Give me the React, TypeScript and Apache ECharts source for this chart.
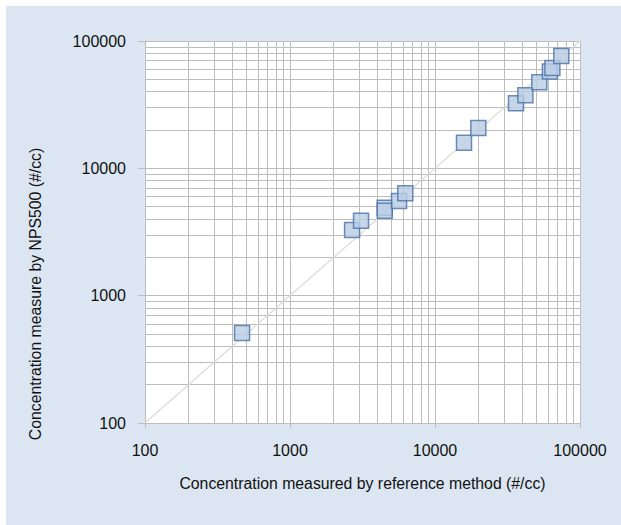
import React, { useEffect, useRef } from "react";
import * as echarts from "echarts";

const refValues = [467, 2680, 3090, 4500, 4500, 5650, 6240, 15850, 19900, 36200, 42000, 52400, 62000, 64500, 74300];
const npsValues = [509, 3280, 3880, 4900, 4640, 5550, 6370, 15900, 20700, 32400, 37500, 47400, 57500, 61500, 76400];
const majorTicks = [100, 1000, 10000, 100000];
const minorGrid = [200, 300, 400, 500, 600, 700, 800, 900, 2000, 3000, 4000, 5000, 6000, 7000, 8000, 9000, 20000, 30000, 40000, 50000, 60000, 70000, 80000, 90000];
const identityLine = [[100, 100], [100000, 100000]];

const xTitle = "Concentration measured by reference method (#/cc)";
const yTitle = "Concentration measure by NPS500 (#/cc)";

const GRID = "#bdbdbd";
const FONT = "Liberation Sans, Arial, sans-serif";
const TEXT = "#111111";

export default function App() {
  const ref = useRef<HTMLDivElement>(null);
  useEffect(() => {
    if (!ref.current) return;
    const chart = echarts.init(ref.current, null, { renderer: "svg" });
    const points = refValues.map((x, i) => [x, npsValues[i]]);
    const gridMarks = [
      ...minorGrid.map((v) => ({ xAxis: v })),
      ...minorGrid.map((v) => ({ yAxis: v })),
    ];
    const axisCommon = {
      type: "log" as const,
      logBase: 10,
      min: majorTicks[0],
      max: majorTicks[majorTicks.length - 1],
      axisLine: { show: true, lineStyle: { color: GRID, width: 1 } },
      splitLine: { show: true, lineStyle: { color: GRID, width: 1 } },
      minorTick: { show: false },
      minorSplitLine: { show: false },
      axisLabel: {
        color: TEXT,
        fontFamily: FONT,
        fontSize: 16,
        formatter: (v: number) => String(Math.round(v)),
      },
    };
    chart.setOption({
      animation: false,
      backgroundColor: "#ffffff",
      textStyle: { fontFamily: FONT },
      graphic: [
        {
          type: "rect",
          z: -10,
          silent: true,
          shape: { x: 6, y: 6, width: 615, height: 519 },
          style: { fill: "#dce6f2" },
        },
        {
          type: "rect",
          z: -9,
          silent: true,
          shape: { x: 145, y: 41, width: 435, height: 382 },
          style: { fill: "#ffffff" },
        },
        {
          type: "text",
          x: 35,
          y: 294,
          rotation: Math.PI / 2,
          style: {
            text: yTitle,
            align: "center",
            verticalAlign: "middle",
            fill: TEXT,
            font: "15.8px " + FONT,
          },
        },
      ],
      grid: { left: 145, right: 41, top: 41, bottom: 102, containLabel: false },
      xAxis: {
        ...axisCommon,
        axisTick: { show: true, length: 5, lineStyle: { color: GRID } },
        axisLabel: { ...axisCommon.axisLabel, margin: 19 },
        name: xTitle,
        nameLocation: "middle",
        nameGap: 52,
        nameTextStyle: { color: TEXT, fontSize: 15.8, fontFamily: FONT },
      },
      yAxis: {
        ...axisCommon,
        axisTick: { show: true, length: 7, lineStyle: { color: GRID } },
        axisLabel: { ...axisCommon.axisLabel, margin: 19 },
      },
      series: [
        {
          type: "line",
          data: identityLine,
          symbol: "none",
          silent: true,
          z: 2,
          lineStyle: { color: "#d9d9d9", width: 1.2 },
          markLine: {
            silent: true,
            symbol: ["none", "none"],
            label: { show: false },
            lineStyle: { color: GRID, width: 1, type: "solid" },
            data: gridMarks,
            z: 1,
          },
        },
        {
          type: "scatter",
          data: points,
          symbol: "rect",
          symbolSize: 15,
          z: 5,
          itemStyle: { color: "#b9cde5", borderColor: "#4a70a6", borderWidth: 1.5 },
        },
      ],
    });
    return () => chart.dispose();
  }, []);
  return (
    <div
      ref={ref}
      style={{ position: "absolute", left: 0, top: 0, width: 621, height: 525 }}
    />
  );
}
